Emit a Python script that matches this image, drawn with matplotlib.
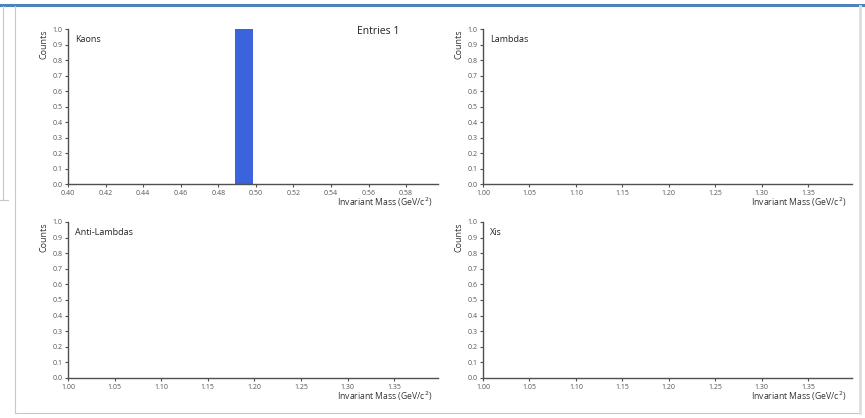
import matplotlib
matplotlib.use("Agg")
import matplotlib.pyplot as plt
from matplotlib.lines import Line2D

plt.rcParams['font.family'] = ['Open Sans', 'DejaVu Sans']

W, H = 865, 418

## histogram data (bin left edge, width, counts)
kaon_bins = [0.489]
kaon_width = 0.0095
kaon_counts = [1]
lambda_bins = []
lambda_counts = []
antilambda_bins = []
antilambda_counts = []
xi_bins = []
xi_counts = []

panel_names = ["Kaons", "Lambdas", "Anti-Lambdas", "Xis"]
kaon_xticks = [0.40, 0.42, 0.44, 0.46, 0.48, 0.50, 0.52, 0.54, 0.56, 0.58]
lambda_xticks = [1.00, 1.05, 1.10, 1.15, 1.20, 1.25, 1.30, 1.35]
yticks = [0.0, 0.1, 0.2, 0.3, 0.4, 0.5, 0.6, 0.7, 0.8, 0.9, 1.0]
entries_text = "Entries 1"

fig = plt.figure(figsize=(W / 100, H / 100), dpi=100)

def px_axes(left, top, right, bottom):
    return fig.add_axes([left / W, 1 - bottom / H, (right - left) / W, (bottom - top) / H])

axc = "#505050"

def style(ax, xlim, xticks, name):
    ax.set_xlim(*xlim)
    ax.set_ylim(0, 1)
    ax.set_xticks(xticks)
    ax.set_xticklabels(["%.2f" % t for t in xticks])
    ax.set_yticks(yticks)
    ax.set_yticklabels(["%.1f" % t for t in yticks])
    for s in ["top", "right"]:
        ax.spines[s].set_visible(False)
    for s in ["left", "bottom"]:
        ax.spines[s].set_color(axc)
        ax.spines[s].set_linewidth(1.0)
    ax.tick_params(length=2.5, width=0.8, color=axc, labelcolor="#555555",
                   labelsize=5.0, pad=1.5)
    ax.set_ylabel("Counts", fontsize=6.5, color="#333333", labelpad=3, loc="top")
    ax.text(0.02, 0.93, name, transform=ax.transAxes, fontsize=6.5,
            color="#222222", va="center", ha="left")
    ax.annotate("Invariant Mass (GeV/c$^{2}$)", xy=(1, 0), xycoords="axes fraction",
                xytext=(-6, -18), textcoords="offset pixels", ha="right", va="center",
                fontsize=6.2, color="#333333")
    ax.patch.set_alpha(0)

ax1 = px_axes(68, 29, 438, 184)
ax2 = px_axes(483, 29, 852, 184)
ax3 = px_axes(68, 222, 438, 378)
ax4 = px_axes(483, 222, 852, 378)

style(ax1, (0.40, 0.597), kaon_xticks, panel_names[0])
style(ax2, (1.00, 1.397), lambda_xticks, panel_names[1])
style(ax3, (1.00, 1.397), lambda_xticks, panel_names[2])
style(ax4, (1.00, 1.397), lambda_xticks, panel_names[3])

ax1.bar(kaon_bins, kaon_counts, width=kaon_width, align="edge", color="#3c63de")
ax2.bar(lambda_bins, lambda_counts, width=0.01, align="edge", color="#3c63de")
ax3.bar(antilambda_bins, antilambda_counts, width=0.01, align="edge", color="#3c63de")
ax4.bar(xi_bins, xi_counts, width=0.01, align="edge", color="#3c63de")

ax1.text(357, H - 32, entries_text, transform=None, fontsize=7.5, color="#222222",
         ha="left", va="center")

# page frame around the chart
def fline(x0, y0, x1, y1, c, lw):
    fig.add_artist(Line2D([x0 / W, x1 / W], [1 - y0 / H, 1 - y1 / H], color=c, lw=lw,
                         transform=fig.transFigure))

fline(0, 4.5, W, 4.5, "#4f81bd", 2.2)
fline(3, 6, 3, 200, "#c8c8c8", 0.8)
fline(0, 200, 8, 200, "#c8c8c8", 0.8)
fline(15, 6, 15, 413, "#c8c8c8", 0.8)
fline(15, 413, 860, 413, "#c8c8c8", 0.8)
fline(860, 6, 860, 413, "#dedede", 2.0)

fig.savefig("out.png", dpi=100)
